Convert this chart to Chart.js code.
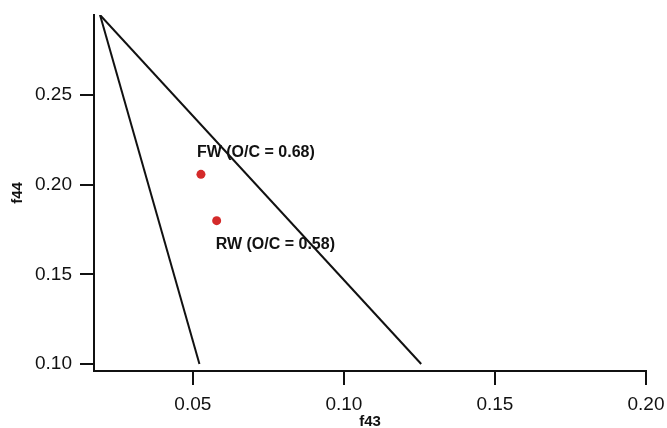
<!DOCTYPE html>
<html>
<head>
<meta charset="utf-8">
<script src="https://cdn.jsdelivr.net/npm/chart.js@4"></script>
<style>
  body { margin: 0; background: #fff; }
  #wrap { width: 667px; height: 428px; }
</style>
</head>
<body>
<div id="wrap"><canvas id="chart"></canvas></div>
<script>
// triangle edges (f43, f44)
const leftEdge = [{x: 0.0193, y: 0.2945}, {x: 0.0522, y: 0.10}];
const rightEdge = [{x: 0.0193, y: 0.2945}, {x: 0.1256, y: 0.10}];

// samples
const sampleNames = ['FW (O/C = 0.68)', 'RW (O/C = 0.58)'];
const sampleF43 = [0.0527, 0.0579];
const sampleF44 = [0.2057, 0.1799];

const xTicks = [0.05, 0.10, 0.15, 0.20];
const yTicks = [0.10, 0.15, 0.20, 0.25];

const font = 'Liberation Sans, Arial, sans-serif';
// label offsets from each point, px
const labelOffsets = [{dx: -4, dy: -22}, {dx: -1, dy: 24}];

const pointLabels = {
    id: 'pointLabels',
    afterDatasetsDraw(chart) {
        const ctx = chart.ctx;
        const meta = chart.getDatasetMeta(2);
        ctx.save();
        ctx.font = 'bold 16px ' + font;
        ctx.fillStyle = '#111';
        ctx.textAlign = 'left';
        ctx.textBaseline = 'middle';
        meta.data.forEach((pt, i) => {
            ctx.fillText(sampleNames[i], pt.x + labelOffsets[i].dx, pt.y + labelOffsets[i].dy);
        });
        ctx.restore();
    }
};

function axisOpts(ticks, min, max, title, titlePad) {
    return {
        type: 'linear',
        min: min,
        max: max,
        afterBuildTicks: s => { s.ticks = ticks.map(v => ({value: v})); },
        border: {display: true, color: '#111', width: 2},
        grid: {drawOnChartArea: false, drawTicks: true, tickLength: 14, color: '#111', lineWidth: 2},
        ticks: {
            color: '#111',
            padding: 8,
            font: {family: font, size: 19},
            callback: v => v.toFixed(2)
        },
        title: {
            display: true,
            text: title,
            color: '#111',
            padding: titlePad,
            font: {family: font, size: 15, weight: 'bold'}
        }
    };
}

const xAxis = axisOpts(xTicks, 0.0173, 0.20, 'f43', {top: 0, bottom: -3});
xAxis.afterFit = s => { s.height = 57; s.paddingLeft = 0; s.paddingRight = 0; };
const yAxis = axisOpts(yTicks, 0.0961, 0.2945, 'f44', {top: 9, bottom: 0});
yAxis.afterFit = s => { s.width = 94; s.paddingTop = 0; s.paddingBottom = 0; };

new Chart(document.getElementById('chart'), {
    type: 'scatter',
    data: {
        datasets: [
            {data: leftEdge, showLine: true, borderColor: '#111', borderWidth: 2, pointRadius: 0},
            {data: rightEdge, showLine: true, borderColor: '#111', borderWidth: 2, pointRadius: 0},
            {
                data: sampleF43.map((x, i) => ({x: x, y: sampleF44[i]})),
                backgroundColor: '#d42a2a',
                borderWidth: 0,
                pointRadius: 4.5
            }
        ]
    },
    options: {
        responsive: true,
        maintainAspectRatio: false,
        animation: false,
        layout: {padding: {left: 0, right: 21, top: 15, bottom: 0}},
        plugins: {legend: {display: false}, tooltip: {enabled: false}},
        scales: {x: xAxis, y: yAxis}
    },
    plugins: [pointLabels]
});
</script>
</body>
</html>
